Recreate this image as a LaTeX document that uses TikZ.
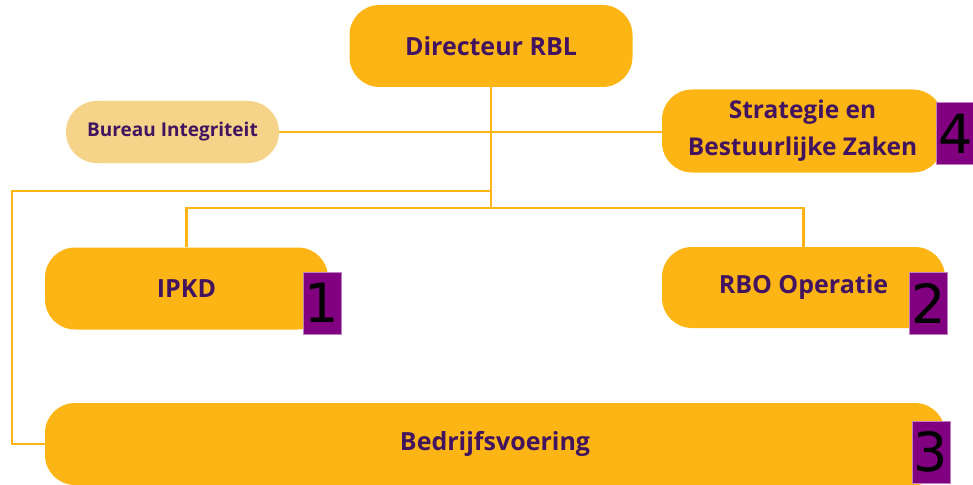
\documentclass[tikz,border=0pt]{standalone}
\usepackage{fontspec}
\setmainfont{Open Sans}
\newfontfamily\cijferfont{DejaVu Sans}
\definecolor{rbloranje}{HTML}{FDB515}
\definecolor{rblgeel}{HTML}{F5D48A}
\definecolor{rblpaars}{HTML}{42145F}
\definecolor{rblnummer}{HTML}{800080}

\begin{document}
\begin{tikzpicture}[x=1pt,y=-1pt,
	blok/.style={fill=rbloranje, rounded corners=30pt, text=rblpaars, align=center, inner sep=0pt, minimum width=283pt, minimum height=82pt, font=\bfseries\fontsize{25}{37}\selectfont},
	nummer/.style={fill=rblnummer, draw=rblnummer!50, line width=0.6pt, inner sep=0pt, minimum width=38pt, minimum height=62pt, font=\cijferfont\fontsize{54}{54}\selectfont},
	lijn/.style={draw=rbloranje, line width=2.2pt}
	]
	\useasboundingbox (0,0) rectangle (973,484);
	\node[blok] (dir) at (491,46) {Directeur RBL};
	\node[blok, fill=rblgeel, rounded corners=31pt, minimum width=213pt, minimum height=62pt, font=\bfseries\fontsize{19}{24}\selectfont] (bi) at (172.5,132) {Bureau Integriteit};
	\node[blok, minimum width=281pt, minimum height=83pt, font=\bfseries\fontsize{24.5}{37}\selectfont] (sbz) at (802.5,131) {Strategie en\\Bestuurlijke Zaken};
	\node[blok] (ipkd) at (186.5,288.5) {IPKD};
	\node[blok, minimum height=81pt] (rbo) at (803.5,287.5) {RBO Operatie};
	\node[blok, minimum width=900pt] (bv) at (495,444) {Bedrijfsvoering};
	
	\coordinate (t1) at (dir.south |- 0,191);
	\coordinate (t2) at (dir.south |- 0,208);
	\coordinate (hoek) at (12,191);
	
	\draw[lijn] (dir.south) -- (t2);
	\draw[lijn] (bi.east) -- (bi.east -| sbz.west);
	\draw[lijn] (t1) -- (hoek) |- (bv.west);
	\draw[lijn] (ipkd.north) |- (t2) -| (rbo.north);
	
	\node[nummer] (n1) at (322,303) {1};
	\node[nummer] (n2) at (928.5,303) {2};
	\node[nummer] (n3) at (931,452) {3};
	\node[nummer] (n4) at (955.5,133.5) {4};
\end{tikzpicture}
\end{document}
